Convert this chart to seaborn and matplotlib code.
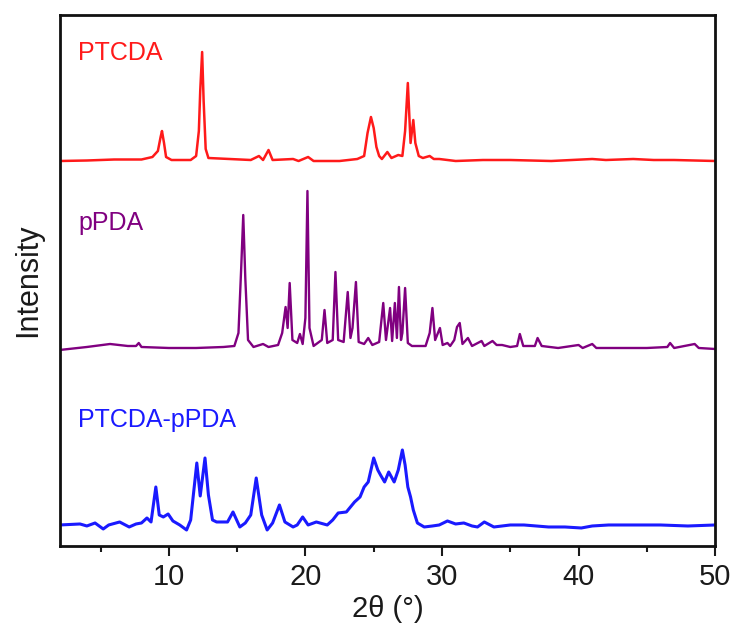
import matplotlib
matplotlib.use("Agg")
import matplotlib.pyplot as plt
import seaborn as sns
import pandas as pd
from matplotlib.ticker import MultipleLocator

# ---- data (2theta in degrees, intensity in arbitrary units above each baseline) ----
ptcda_x = [2.0, 4.0, 6.0, 8.0, 8.8, 9.2, 9.4, 9.5, 9.65, 9.8, 10.2, 11.6, 12.0, 12.2, 12.3, 12.44,
           12.55, 12.7, 12.9, 16.0, 16.6, 16.9, 17.3, 17.6, 19.1, 19.5, 20.2, 20.6, 22.5, 23.8,
           24.3, 24.55, 24.8, 25.0, 25.2, 25.4, 25.6, 26.0, 26.3, 26.8, 27.1, 27.3, 27.5, 27.7,
           27.9, 28.05, 28.3, 28.6, 29.1, 29.4, 29.8, 31.0, 33.0, 35.0, 38.0, 41.0, 42.0, 44.0,
           45.5, 47.0, 50.0]
ptcda_y = [0, 0.5, 1.5, 1.5, 4, 10, 24, 30, 18, 4, 1, 1, 5, 30, 70, 109,
           60, 12, 3, 1, 5, 1, 11, 1, 2, 0, 4, 0, 0, 2,
           5, 28, 44, 33, 14, 5, 2, 9, 3, 6, 5, 30, 78, 18,
           41, 18, 5, 3, 5, 2, 2, 0, 1, 1, 0, 2, 1, 2,
           1, 1, 0]

ppda_x = [2.0, 4.0, 5.7, 7.0, 7.6, 7.8, 8.0, 10.0, 12.0, 14.0, 14.8, 15.1, 15.3, 15.45, 15.6,
          15.8, 16.2, 16.9, 17.3, 18.0, 18.3, 18.55, 18.7, 18.85, 19.05, 19.4, 19.6, 19.8,
          20.0, 20.15, 20.3, 20.6, 21.2, 21.4, 21.6, 22.0, 22.2, 22.4, 22.8, 23.1, 23.3,
          23.45, 23.7, 23.9, 24.3, 24.6, 24.9, 25.4, 25.7, 25.9, 26.2, 26.35, 26.55, 26.7,
          26.85, 27.0, 27.1, 27.3, 27.5, 27.8, 28.8, 29.1, 29.3, 29.5, 29.85, 30.05, 30.4,
          30.6, 30.9, 31.1, 31.3, 31.5, 31.9, 32.2, 32.9, 33.1, 33.7, 34.0, 34.4, 35.0, 35.5,
          35.7, 35.95, 36.8, 37.0, 37.3, 38.5, 40.0, 40.3, 41.0, 41.3, 43.0, 45.0, 46.5, 46.7,
          47.0, 48.5, 48.8, 50.0]
ppda_y = [-2, 1, 4, 2, 2, 5, 1, 0, 0, 1, 2, 15, 80, 133, 70,
          8, 1, 4, 1, 3, 15, 41, 20, 65, 8, 5, 14, 4,
          30, 157, 20, 2, 8, 38, 5, 8, 76, 8, 6, 56, 10,
          20, 66, 6, 4, 10, 3, 6, 45, 8, 40, 7, 45, 10,
          61, 8, 15, 60, 5, 2, 2, 15, 40, 8, 20, 3, 5,
          2, 8, 21, 25, 4, 10, 2, 7, 2, 7, 3, 3, 1, 2,
          14, 2, 2, 10, 2, 0, 3, 0, 4, 0, 0, 0, 1, 5,
          0, 4, 0, -1]

blend_x = [2.0, 3.5, 4.0, 4.6, 5.2, 5.6, 6.4, 7.1, 7.6, 8.0, 8.4, 8.7, 9.05, 9.3, 9.6, 9.95,
           10.3, 10.8, 11.3, 11.6, 12.05, 12.3, 12.65, 12.9, 13.2, 13.5, 13.9, 14.3, 14.7,
           15.2, 15.6, 16.0, 16.4, 16.8, 17.2, 17.6, 18.1, 18.5, 19.1, 19.4, 19.8, 20.2,
           20.8, 21.6, 22.0, 22.4, 23.0, 23.6, 24.0, 24.3, 24.6, 25.0, 25.3, 25.5, 25.8,
           26.1, 26.5, 26.8, 27.1, 27.3, 27.5, 27.7, 27.9, 28.2, 28.7, 29.3, 29.8, 30.4,
           31.0, 31.6, 32.2, 32.6, 33.1, 33.8, 35.0, 36.0, 37.8, 39.0, 40.2, 41.0, 42.2,
           44.0, 46.0, 48.0, 50.0]
blend_y = [0, 1, -1, 2, -4, 0, 3, -2, 1, 2, 7, 3, 38, 10, 8, 11,
           4, 0, -5, 5, 62, 29, 67, 30, 5, 3, 3, 3, 13,
           -2, 2, 10, 47, 10, -5, 2, 20, 3, -2, 0, 8, 0,
           3, 0, 5, 12, 13, 23, 28, 38, 43, 67, 55, 50, 43,
           53, 43, 55, 75, 60, 38, 28, 15, 2, -2, -1, 0, 4,
           1, 2, -1, -2, 3, -2, 0, 0, -2, -2, -3, -1, 0,
           0, 0, -1, 0]

names = ["PTCDA", "pPDA", "PTCDA-pPDA"]
offsets = [385, 198, 21]
colors = ["#ff1a1a", "#800080", "#1a1aff"]
widths = [1.8, 1.7, 2.2]
label_y = [486, 316, 119]

sns.set_style("ticks")
plt.rcParams["font.family"] = ["Liberation Sans", "DejaVu Sans"]

fig = plt.figure(figsize=(7.35, 6.28), dpi=100)
ax = fig.add_axes([0.081, 0.1306, 0.892, 0.8463])

series = [(ptcda_x, ptcda_y), (ppda_x, ppda_y), (blend_x, blend_y)]
for (xs, ys), name, off, col, lw, ly in zip(series, names, offsets, colors, widths, label_y):
    df = pd.DataFrame({"two_theta": xs, "intensity": [v + off for v in ys]})
    sns.lineplot(data=df, x="two_theta", y="intensity", ax=ax, color=col,
                 linewidth=lw, estimator=None, sort=False)
    ax.text(3.36, ly, name, color=col, fontsize=18, ha="left", va="baseline")

ax.set_xlim(2, 50)
ax.set_ylim(0, 531.5)
ax.xaxis.set_major_locator(MultipleLocator(10))
ax.xaxis.set_minor_locator(MultipleLocator(5))
ax.set_yticks([])
ax.tick_params(axis="x", which="major", direction="out", length=7, width=1.5,
               labelsize=21, pad=5, colors="#1a1a1a")
ax.tick_params(axis="x", which="minor", direction="out", length=4, width=1.5, colors="#1a1a1a")
for sp in ax.spines.values():
    sp.set_visible(True)
    sp.set_linewidth(2.0)
    sp.set_color("#111111")
ax.set_xlabel("2θ (°)", fontsize=21, labelpad=3, color="#1a1a1a")
ax.set_ylabel("Intensity", fontsize=22, labelpad=12, color="#1a1a1a")
ax.set_title("")

fig.savefig("out.png", dpi=100)
